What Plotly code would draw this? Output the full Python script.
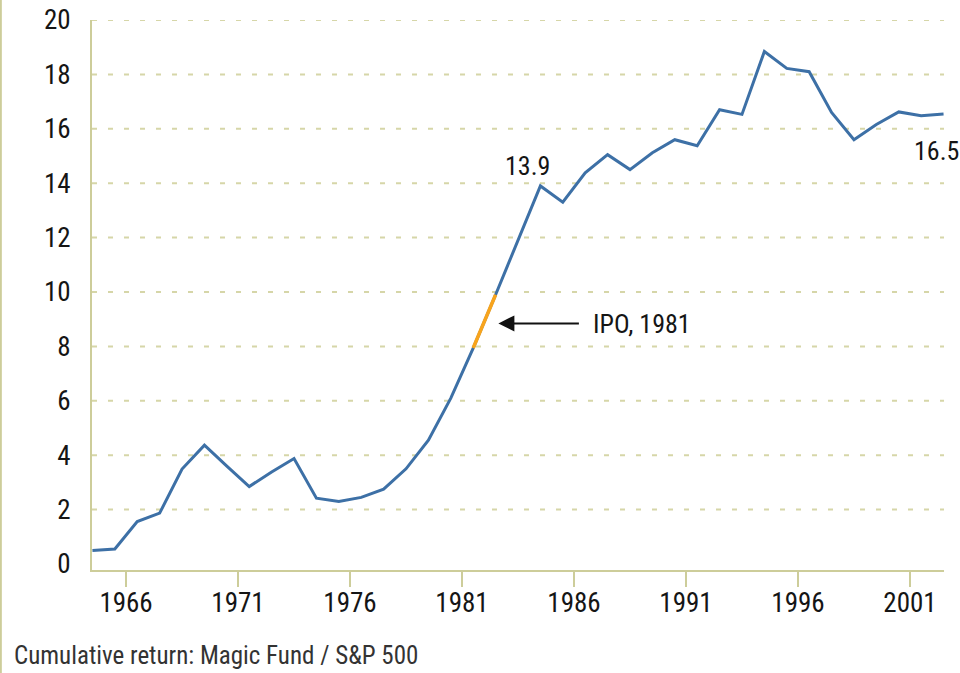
import plotly.graph_objects as go

# ---- data ----
years = list(range(1964, 2003))
ratio = [0.50, 0.55, 1.56, 1.87, 3.49, 4.37, 3.60, 2.85, 3.38, 3.88,
         2.42, 2.30, 2.45, 2.75, 3.50, 4.55, 6.10, 7.94, 9.90, 11.90,
         13.90, 13.30, 14.38, 15.05, 14.50, 15.12, 15.60, 15.38, 16.70, 16.53,
         18.84, 18.22, 18.10, 16.60, 15.60, 16.16, 16.62, 16.48, 16.54]
x_tick_years = [1966, 1971, 1976, 1981, 1986, 1991, 1996, 2001]
y_tick_values = [0, 2, 4, 6, 8, 10, 12, 14, 16, 18, 20]
ipo_year = 1981
peak_year = 1984
ipo_label = "IPO, 1981"
caption = "Cumulative return: Magic Fund / S&P 500"

# ---- styles ----
BLUE = "#3d70a6"
ORANGE = "#f8a41c"
OLIVE = "#cdcd9a"
GRID = "#d6d6a8"
TEXT = "#151515"
FONT = "Liberation Sans Narrow, Roboto Condensed, DejaVu Sans Condensed, Arial Narrow, Roboto, sans-serif"

# values are plotted at mid-year
xpos = [y + 0.5 for y in years]

fig = go.Figure()
fig.add_trace(go.Scatter(x=xpos, y=ratio, mode="lines",
                         line=dict(color=BLUE, width=3), hoverinfo="skip",
                         showlegend=False))
i_ipo = years.index(ipo_year)
fig.add_trace(go.Scatter(x=xpos[i_ipo:i_ipo + 2], y=ratio[i_ipo:i_ipo + 2],
                         mode="lines", line=dict(color=ORANGE, width=3.5),
                         hoverinfo="skip", showlegend=False))

# dashed horizontal grid (no line at zero)
for v in y_tick_values[1:]:
    fig.add_hline(y=v, line=dict(color=GRID, width=2, dash="5px,11px"),
                  layer="below")

i_peak = years.index(peak_year)
ann_font = dict(family=FONT, size=26, color=TEXT)
fig.add_annotation(x=xpos[i_peak], y=ratio[i_peak], text=f"{ratio[i_peak]:.1f}",
                   showarrow=False, xanchor="center", yanchor="bottom",
                   xshift=-13, yshift=3, font=ann_font)
fig.add_annotation(x=xpos[-1], y=ratio[-1], text=f"{ratio[-1]:.1f}",
                   showarrow=False, xanchor="center", yanchor="top",
                   xshift=-7, yshift=-20, font=ann_font)

ipo_x = (xpos[i_ipo] + xpos[i_ipo + 1]) / 2
ipo_y = (ratio[i_ipo] + ratio[i_ipo + 1]) / 2
fig.add_annotation(x=ipo_x, y=ipo_y, text="", showarrow=True,
                   ax=96, ay=0, arrowhead=2, arrowsize=1.6, arrowwidth=2,
                   arrowcolor="#111111", standoff=14, yshift=-2)
fig.add_annotation(x=ipo_x, y=ipo_y, text=ipo_label, showarrow=False,
                   xanchor="center", yanchor="middle", xshift=158, yshift=-3,
                   font=ann_font)

fig.add_annotation(xref="paper", yref="paper", x=-0.094, y=-0.156,
                   text=caption, showarrow=False, xanchor="left",
                   yanchor="middle",
                   font=dict(family=FONT, size=25, color="#333333"))

# thin left border
fig.add_shape(type="line", xref="paper", yref="paper", x0=-0.107, x1=-0.107,
              y0=-0.19, y1=1.04, line=dict(color=OLIVE, width=2))

fig.update_layout(
    width=960, height=673,
    margin=dict(l=92, r=16, t=20, b=103, autoexpand=False),
    paper_bgcolor="white", plot_bgcolor="white",
    xaxis=dict(range=[1964.48, 2002.52], tickvals=x_tick_years,
               ticks="outside", ticklen=15, tickwidth=2, tickcolor=OLIVE,
               showline=True, linecolor=OLIVE, linewidth=2,
               showgrid=False, zeroline=False, ticklabelstandoff=-7,
               tickfont=dict(family=FONT, size=27, color=TEXT)),
    yaxis=dict(range=[-0.22, 20], tickvals=y_tick_values, ticks="",
               showline=True, linecolor=OLIVE, linewidth=2,
               showgrid=False, zeroline=False, ticklabelstandoff=14,
               tickfont=dict(family=FONT, size=27, color=TEXT)),
)

fig.write_html("out.html", config={"displayModeBar": False},
               post_script="document.body.style.margin='0';"
                           "document.body.style.overflow='hidden';")
